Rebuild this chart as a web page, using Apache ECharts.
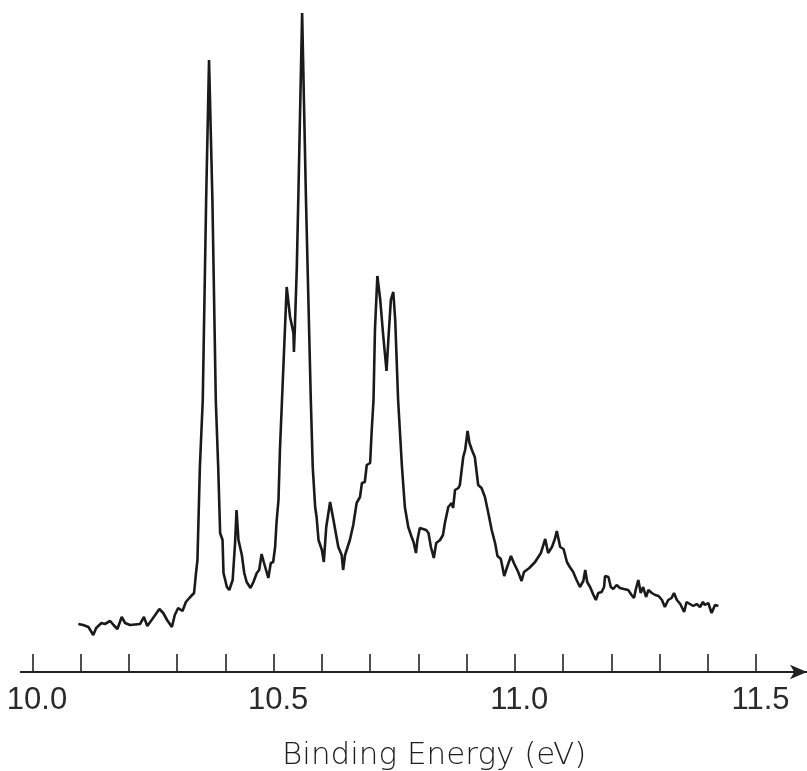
<!DOCTYPE html>
<html>
<head>
<meta charset="utf-8">
<script src="https://cdn.jsdelivr.net/npm/echarts@6/dist/echarts.min.js"></script>
<style>html,body{margin:0;padding:0;background:#fff;}#c{width:807px;height:771px;}</style>
</head>
<body>
<div id="c"></div>
<script>
// Binding energy (eV) of each sampled point
const energy = [
10.095,10.105,10.116,10.126,10.132,10.136,10.143,10.150,10.161,10.168,10.176,10.185,10.192,10.202,10.223,10.231,10.238,10.250,10.263,10.271,
10.279,10.289,10.295,10.302,10.311,10.318,10.327,10.335,10.339,10.342,10.347,10.353,10.360,10.366,10.373,10.380,10.385,10.389,10.394,10.396,
10.403,10.408,10.415,10.420,10.423,10.427,10.434,10.439,10.444,10.452,10.458,10.465,10.470,10.475,10.480,10.489,10.494,10.499,10.503,10.506,
10.510,10.513,10.527,10.534,10.541,10.542,10.544,10.548,10.551,10.559,10.567,10.572,10.577,10.581,10.586,10.589,10.593,10.600,10.604,10.609,
10.617,10.624,10.634,10.641,10.644,10.648,10.658,10.665,10.672,10.679,10.683,10.689,10.693,10.700,10.703,10.707,10.710,10.715,10.721,10.727,
10.734,10.739,10.743,10.748,10.752,10.758,10.766,10.772,10.779,10.786,10.790,10.795,10.798,10.803,10.816,10.821,10.826,10.832,10.837,10.845,
10.851,10.855,10.862,10.869,10.872,10.876,10.883,10.886,10.890,10.893,10.897,10.902,10.906,10.911,10.917,10.924,10.931,10.938,10.945,10.952,
10.959,10.964,10.971,10.978,10.984,10.992,10.998,11.007,11.014,11.019,11.030,11.042,11.054,11.063,11.069,11.077,11.083,11.087,11.094,11.101,
11.108,11.114,11.121,11.128,11.135,11.142,11.146,11.150,11.156,11.163,11.168,11.173,11.180,11.185,11.187,11.194,11.199,11.204,11.211,11.218,
11.226,11.235,11.242,11.247,11.251,11.256,11.261,11.266,11.272,11.277,11.284,11.291,11.298,11.305,11.311,11.318,11.325,11.330,11.336,11.343,
11.351,11.356,11.363,11.370,11.377,11.384,11.390,11.394,11.401,11.408,11.415,11.422
];
// Photoelectron intensity (arbitrary units) at each energy
const intensity = [
48,47,45,37,44,42,49,48,51,47,43,55,49,47,48,55,46,54,63,59,
52,45,57,64,61,70,75,79,99,112,205,272,472,612,472,272,205,139,132,99,
85,82,92,129,162,132,117,99,90,84,90,99,102,118,109,94,109,110,125,150,
172,222,385,355,339,320,345,405,472,659,472,372,272,205,165,155,132,122,110,145,
170,152,125,117,102,117,132,147,169,175,189,190,207,209,239,272,342,396,372,337,
301,342,372,380,352,272,205,165,145,135,130,119,132,144,142,139,125,114,129,132,
137,149,165,169,164,182,184,187,189,215,222,241,229,222,215,187,184,175,159,142,
129,116,113,96,105,116,109,100,91,100,104,110,119,133,119,125,133,141,125,123,
110,105,100,92,85,91,102,90,85,77,72,79,80,85,96,95,85,83,87,84,
83,82,77,74,83,92,79,85,75,82,79,77,76,72,65,72,74,79,72,68,
60,70,68,66,68,65,70,67,69,59,67,66
];
// Axis ticks
const xMin = 10.0, xMax = 11.5, tickStep = 0.1;
const labelledTicks = ['10.0', '10.5', '11.0', '11.5'];
const axisTitle = 'Binding Energy (eV)';

const points = energy.map((e, i) => [e, intensity[i]]);

const chart = echarts.init(document.getElementById('c'), null, {renderer: 'canvas'});
chart.setOption({
  animation: false,
  backgroundColor: '#ffffff',
  title: {
    text: axisTitle,
    left: 277,
    top: 735,
    textStyle: {fontFamily: 'DejaVu Sans', fontWeight: 200, fontSize: 31, color: '#1e1e1e'}
  },
  grid: [
    {left: 32.5, right: 51, top: 0, bottom: 99},
    {left: 20.7, right: 0, top: 0, bottom: 99}
  ],
  xAxis: [
    {
      gridIndex: 0, type: 'value', min: xMin, max: xMax, interval: tickStep,
      axisLine: {show: false},
      axisTick: {show: true, inside: true, length: 18, lineStyle: {color: '#222', width: 1.6}},
      splitLine: {show: false},
      axisLabel: {
        show: true, interval: 0, showMinLabel: true, showMaxLabel: true, margin: 13,
        fontFamily: 'Liberation Sans, sans-serif', fontSize: 31, color: '#2a2a2a',
        padding: [0, 0, 0, 9],
        formatter: v => { const s = v.toFixed(1); return labelledTicks.includes(s) ? s : ''; }
      }
    },
    {
      gridIndex: 1, type: 'value', min: 0, max: 1,
      axisLine: {show: true, symbol: ['none', 'arrow'], symbolSize: [11, 17], lineStyle: {color: '#222', width: 1.8}},
      axisTick: {show: false}, axisLabel: {show: false}, splitLine: {show: false}
    }
  ],
  yAxis: [
    {gridIndex: 0, type: 'value', min: 0, max: 672, show: false},
    {gridIndex: 1, type: 'value', min: 0, max: 1, show: false}
  ],
  series: [{
    type: 'line', xAxisIndex: 0, yAxisIndex: 0,
    data: points, showSymbol: false, smooth: false,
    lineStyle: {color: '#1a1a1a', width: 2.6},
    silent: true
  }]
});
</script>
</body>
</html>
